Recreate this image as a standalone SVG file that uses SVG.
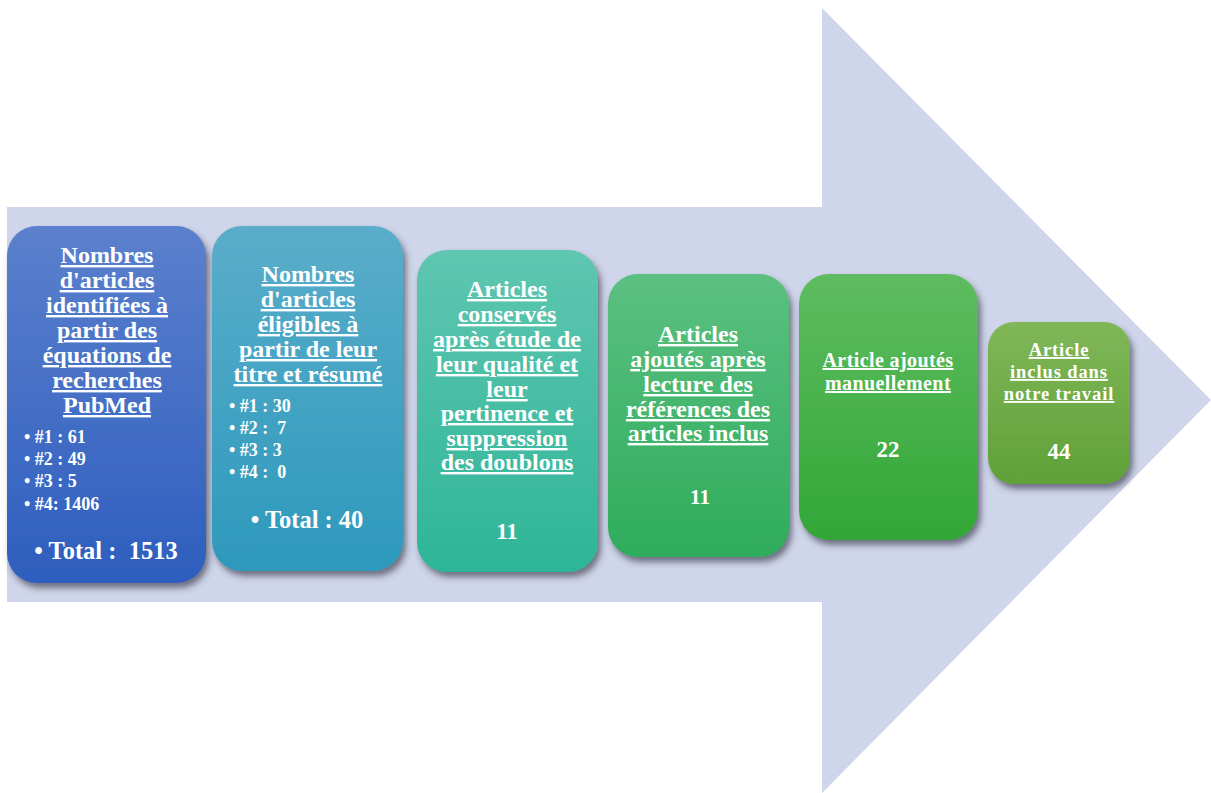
<svg xmlns="http://www.w3.org/2000/svg" width="1211" height="793" viewBox="0 0 1211 793">
<style>
.t{font-family:"Liberation Serif","Times New Roman",serif;font-weight:bold;fill:#fff;text-anchor:middle;text-decoration:underline}
.b{font-family:"Liberation Serif","Times New Roman",serif;font-weight:bold;fill:#fff}
.n{font-family:"Liberation Serif","Times New Roman",serif;font-weight:bold;fill:#fff;text-anchor:middle}
.box{filter:url(#sh)}
</style>
<defs>
<filter id="sh" x="-20%" y="-20%" width="140%" height="140%">
<feDropShadow dx="3" dy="5" stdDeviation="3" flood-color="#3a3a4a" flood-opacity="0.65"/>
</filter>
<linearGradient id="g1" x1="0" y1="0" x2="0" y2="1"><stop offset="0" stop-color="#5B80CD"/><stop offset="1" stop-color="#2E5EBE"/></linearGradient>
<linearGradient id="g2" x1="0" y1="0" x2="0" y2="1"><stop offset="0" stop-color="#5AADCA"/><stop offset="1" stop-color="#2D99BC"/></linearGradient>
<linearGradient id="g3" x1="0" y1="0" x2="0" y2="1"><stop offset="0" stop-color="#5FC6B0"/><stop offset="1" stop-color="#2EB597"/></linearGradient>
<linearGradient id="g4" x1="0" y1="0" x2="0" y2="1"><stop offset="0" stop-color="#5CC081"/><stop offset="1" stop-color="#2EAC5C"/></linearGradient>
<linearGradient id="g5" x1="0" y1="0" x2="0" y2="1"><stop offset="0" stop-color="#5EBC60"/><stop offset="1" stop-color="#32A737"/></linearGradient>
<linearGradient id="g6" x1="0" y1="0" x2="0" y2="1"><stop offset="0" stop-color="#80B758"/><stop offset="1" stop-color="#5FA138"/></linearGradient>
</defs>
<rect width="1211" height="793" fill="#fff"/>
<g id="background-arrow">
<polygon points="7,207 822,207 822,8 1211,400 822,793 822,602 7,602" fill="#CFD5EA"/>
</g>
<g id="connectors"></g>
<g id="node1">
<rect class="box" x="7" y="226" width="199" height="357" rx="30" fill="url(#g1)"/>
<text class="t" font-size="24" x="107" y="263">Nombres</text>
<text class="t" font-size="24" x="107" y="288">d'articles</text>
<text class="t" font-size="24" x="107" y="313">identifiées à</text>
<text class="t" font-size="24" x="107" y="338">partir des</text>
<text class="t" font-size="24" x="107" y="363">équations de</text>
<text class="t" font-size="24" x="107" y="388">recherches</text>
<text class="t" font-size="24" x="107" y="413">PubMed</text>
<text class="b" font-size="18" x="24" y="443">• #1 : 61</text>
<text class="b" font-size="18" x="24" y="465">• #2 : 49</text>
<text class="b" font-size="18" x="24" y="487">• #3 : 5</text>
<text class="b" font-size="18" x="24" y="510">• #4: 1406</text>
<text class="n" font-size="24.5" x="106" y="559" xml:space="preserve">• Total :  1513</text>
</g>
<g id="node2">
<rect class="box" x="212" y="226" width="191" height="345" rx="30" fill="url(#g2)"/>
<text class="t" font-size="24" x="308" y="282">Nombres</text>
<text class="t" font-size="24" x="308" y="307">d'articles</text>
<text class="t" font-size="24" x="308" y="332">éligibles à</text>
<text class="t" font-size="24" x="308" y="357">partir de leur</text>
<text class="t" font-size="24" x="308" y="382">titre et résumé</text>
<text class="b" font-size="18" x="229" y="412">• #1 : 30</text>
<text class="b" font-size="18" x="229" y="434" xml:space="preserve">• #2 :  7</text>
<text class="b" font-size="18" x="229" y="456">• #3 : 3</text>
<text class="b" font-size="18" x="229" y="478" xml:space="preserve">• #4 :  0</text>
<text class="n" font-size="24.5" x="307" y="528">• Total : 40</text>
</g>
<g id="node3">
<rect class="box" x="417" y="250" width="181" height="322" rx="30" fill="url(#g3)"/>
<text class="t" font-size="24" x="507" y="297">Articles</text>
<text class="t" font-size="24" x="507" y="322">conservés</text>
<text class="t" font-size="24" x="507" y="347">après étude de</text>
<text class="t" font-size="24" x="507" y="372">leur qualité et</text>
<text class="t" font-size="24" x="507" y="397">leur</text>
<text class="t" font-size="24" x="507" y="421">pertinence et</text>
<text class="t" font-size="24" x="507" y="446">suppression</text>
<text class="t" font-size="24" x="507" y="470">des doublons</text>
<text class="n" font-size="23" x="507" y="539">11</text>
</g>
<g id="node4">
<rect class="box" x="608" y="274" width="181" height="283" rx="30" fill="url(#g4)"/>
<text class="t" font-size="24" x="698" y="342">Articles</text>
<text class="t" font-size="24" x="698" y="367">ajoutés après</text>
<text class="t" font-size="24" x="698" y="392">lecture des</text>
<text class="t" font-size="24" x="698" y="417">références des</text>
<text class="t" font-size="24" x="698" y="441">articles inclus</text>
<text class="n" font-size="21" x="700" y="504">11</text>
</g>
<g id="node5">
<rect class="box" x="799" y="274" width="179" height="266" rx="30" fill="url(#g5)"/>
<text class="t" font-size="20" x="888" y="367" letter-spacing="0.4">Article ajoutés</text>
<text class="t" font-size="20" x="888" y="390" letter-spacing="0.4">manuellement</text>
<text class="n" font-size="23" x="888" y="457">22</text>
</g>
<g id="node6">
<rect class="box" x="988" y="322" width="142" height="162" rx="26" fill="url(#g6)"/>
<text class="t" font-size="18.5" x="1059" y="356" letter-spacing="0.9">Article</text>
<text class="t" font-size="18.5" x="1059" y="378" letter-spacing="0.9">inclus dans</text>
<text class="t" font-size="18.5" x="1059" y="400" letter-spacing="0.9">notre travail</text>
<text class="n" font-size="23" x="1059" y="459">44</text>
</g>
</svg>
